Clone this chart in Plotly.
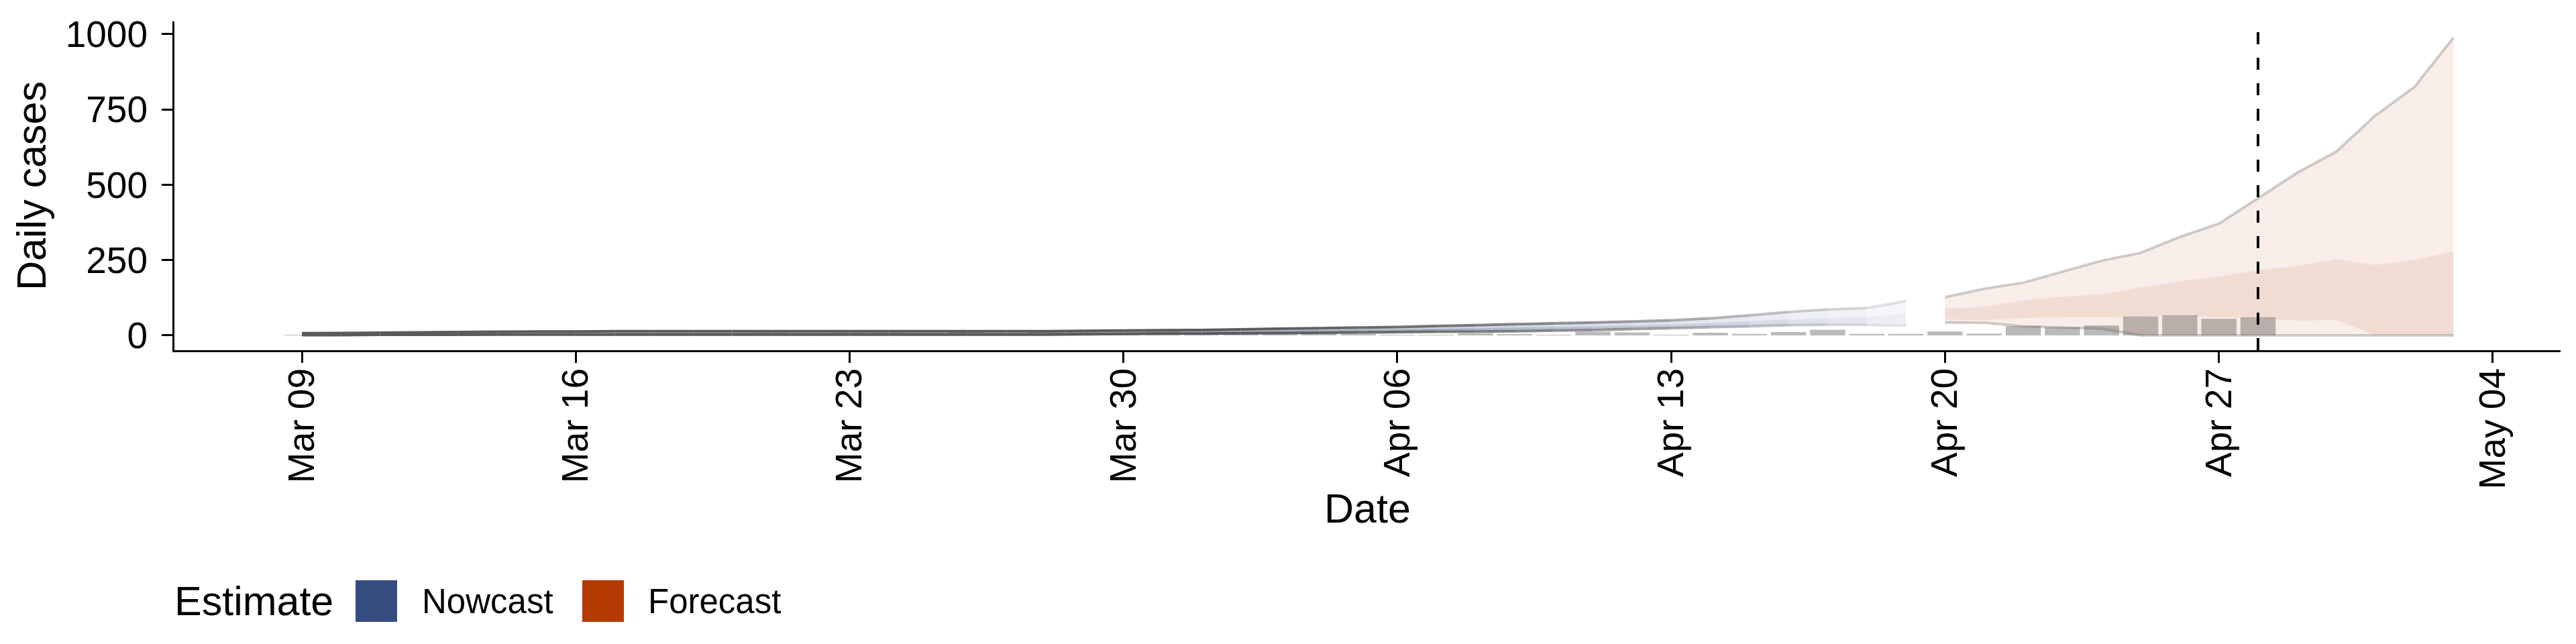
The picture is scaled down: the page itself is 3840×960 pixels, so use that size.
import pandas as pd
import plotly.graph_objects as go

# ---------------- data ----------------
report_dates = pd.date_range("2020-03-09", "2020-04-28", freq="D")
reported_cases = [1, 0, 0, 1, 1, 12, 2, 3, 0, 3, 3, 0, 9, 7, 9, 9, 5, 12, 3, 12,
                  10, 8, 12, 6, 8, 4, 9, 5,
                  1, 2, 7, 3, 2, 12, 10, 1, 9, 5, 11, 19, 5, 5,
                  13, 6, 31, 27, 33, 63, 67, 55, 60]

nowcast_dates = pd.date_range("2020-03-09", "2020-04-19", freq="D")
nowcast_upper90 = [7, 8, 9, 10, 11, 12, 13, 13, 14, 14, 14, 14, 14, 14, 14, 14, 14, 14, 14, 14,
                   15, 16, 17, 18, 20, 22, 24, 26, 28, 31, 34, 37, 40, 43, 46, 50, 57, 67, 78, 86, 91, 114]
nowcast_upper50 = [4, 5, 6, 6, 7, 8, 8, 9, 9, 9, 9, 9, 9, 9, 9, 9, 9, 9, 9, 9,
                   10, 11, 12, 13, 14, 16, 17, 19, 20, 22, 24, 26, 28, 30, 33, 36, 41, 47, 53, 58, 62, 73]
nowcast_lower50 = [3, 3, 4, 4, 5, 5, 5, 6, 6, 6, 6, 6, 6, 6, 6, 6, 6, 6, 6, 6,
                   7, 7, 8, 9, 10, 11, 12, 13, 14, 15, 17, 18, 20, 21, 24, 26, 30, 33, 37, 39, 40, 40]
nowcast_lower90 = [1, 1, 2, 2, 2, 3, 3, 3, 3, 3, 3, 3, 3, 3, 3, 3, 3, 3, 3, 3,
                   4, 5, 6, 6, 7, 8, 9, 10, 11, 12, 13, 14, 16, 18, 21, 24, 27, 30, 34, 35, 35, 33]
nowcast_confidence = [1.0] * 25 + [0.97, 0.94, 0.90, 0.86, 0.82, 0.77, 0.72, 0.67, 0.62,
                                   0.56, 0.50, 0.44, 0.38, 0.32, 0.26, 0.20, 0.14]

forecast_dates = pd.date_range("2020-04-20", "2020-05-03", freq="D")
forecast_upper90 = [127, 155, 175, 212, 248, 274, 327, 371, 455, 540, 610, 730, 825, 989]
forecast_upper50 = [89, 95, 117, 128, 137, 160, 180, 195, 216, 230, 254, 234, 252, 277]
forecast_lower50 = [53, 51, 58, 60, 60, 63, 65, 60, 58, 49, 51, 0, 0, 0]
forecast_lower90 = [43, 42, 30, 27, 22, 0, 0, 0, 0, 0, 0, 0, 0, 0]
forecast_confidence = 0.33

estimate_labels = ["Nowcast", "Forecast"]
estimate_rgb = [(53, 76, 129), (179, 58, 0)]
cutoff_date = pd.Timestamp("2020-04-28")
y_ticks = [0, 250, 500, 750, 1000]

# ---------------- styling helpers ----------------
FONT = "Liberation Sans, Arial, Helvetica, sans-serif"
W, H = 3840, 960
L, R, T, B = 252, 31, 24, 446
PW, PH = W - L - R, H - T - B
PX_PER_DAY = 58.32
MAR09_PX = 442
LEG_Y = 888


def rgba(rgb, a):
    return f"rgba({rgb[0]},{rgb[1]},{rgb[2]},{a:.3f})"


def line_col(a):
    return f"rgba(90,90,90,{a:.3f})"


fig = go.Figure()

# reported cases (bars)
fig.add_trace(go.Bar(x=report_dates, y=reported_cases, width=0.9 * 86400000,
                     marker=dict(color="#bababa", line=dict(width=0)),
                     showlegend=False, hoverinfo="x+y"))

# nowcast ribbons, drawn segment by segment with confidence-based alpha
nd = list(nowcast_dates)
for lo, hi in [(nowcast_lower90, nowcast_upper90), (nowcast_lower50, nowcast_upper50)]:
    for i in range(len(nd) - 1):
        a = 0.3 * (nowcast_confidence[i] + nowcast_confidence[i + 1]) / 2
        fig.add_trace(go.Scatter(
            x=[nd[i], nd[i + 1], nd[i + 1], nd[i], nd[i]],
            y=[lo[i], lo[i + 1], hi[i + 1], hi[i], lo[i]],
            mode="lines", fill="toself", fillcolor=rgba(estimate_rgb[0], a),
            line=dict(width=0), showlegend=False, hoverinfo="skip"))
for bound in [nowcast_upper90, nowcast_lower90]:
    for i in range(len(nd) - 1):
        a = (nowcast_confidence[i] + nowcast_confidence[i + 1]) / 2
        fig.add_trace(go.Scatter(
            x=[nd[i], nd[i + 1]], y=[bound[i], bound[i + 1]], mode="lines",
            line=dict(color=line_col(a), width=4), showlegend=False, hoverinfo="skip"))

# forecast ribbons
fd = list(forecast_dates)
for lo, hi in [(forecast_lower90, forecast_upper90), (forecast_lower50, forecast_upper50)]:
    fig.add_trace(go.Scatter(
        x=fd + fd[::-1], y=list(lo) + list(hi)[::-1], mode="lines", fill="toself",
        fillcolor=rgba(estimate_rgb[1], 0.28 * forecast_confidence),
        line=dict(width=0), showlegend=False, hoverinfo="skip"))
for bound in [forecast_upper90, forecast_lower90]:
    fig.add_trace(go.Scatter(x=fd, y=bound, mode="lines",
                             line=dict(color=line_col(0.85 * forecast_confidence), width=4),
                             showlegend=False, hoverinfo="skip"))

# cutoff dashed line
fig.add_shape(type="line", x0=cutoff_date, x1=cutoff_date, yref="paper", y0=0, y1=1,
              line=dict(color="black", width=4, dash="18px,20px"))


# manual legend (ggplot-style large swatches)
def px_x(p):
    return (p - L) / PW


def px_y(p):
    return (H - B - p) / PH


fig.add_annotation(text="Estimate", x=px_x(250), y=px_y(LEG_Y), xref="paper", yref="paper",
                   xanchor="left", yanchor="middle", showarrow=False,
                   font=dict(family=FONT, size=61, color="black"))
swatch_x = [522, 860]
label_x = [619, 956]
for lab, rgb, sx, lx in zip(estimate_labels, estimate_rgb, swatch_x, label_x):
    fig.add_shape(type="rect", xref="paper", yref="paper",
                  x0=px_x(sx), x1=px_x(sx + 62), y0=px_y(LEG_Y + 31), y1=px_y(LEG_Y - 31),
                  fillcolor=rgba(rgb, 1), line=dict(width=0))
    fig.add_annotation(text=lab, x=px_x(lx), y=px_y(LEG_Y), xref="paper", yref="paper",
                       xanchor="left", yanchor="middle", showarrow=False,
                       font=dict(family=FONT, size=51, color="black"))

x_start = pd.Timestamp("2020-03-09") - pd.Timedelta(days=(MAR09_PX - L) / PX_PER_DAY)
x_end = x_start + pd.Timedelta(days=PW / PX_PER_DAY)

fig.update_layout(
    width=W, height=H,
    margin=dict(l=L, r=R, t=T, b=B, pad=0),
    paper_bgcolor="white", plot_bgcolor="white",
    font=dict(family=FONT, size=55, color="black"),
    showlegend=False,
    barmode="overlay",
    xaxis=dict(
        type="date", range=[x_start, x_end],
        tick0="2020-03-09", dtick=7 * 86400000, tickformat="%b %d", tickangle=-90,
        showgrid=False, zeroline=False, showline=True, linecolor="black", linewidth=3,
        ticks="outside", ticklen=16, tickwidth=3, tickcolor="black",
        tickfont=dict(family=FONT, size=55, color="black"), ticklabelstandoff=-14,
        title=dict(text="Date", font=dict(family=FONT, size=61, color="black"), standoff=8),
    ),
    yaxis=dict(
        range=[-49, 1042], tickvals=y_ticks,
        showgrid=False, zeroline=False, showline=True, linecolor="black", linewidth=3,
        ticks="outside", ticklen=16, tickwidth=3, tickcolor="black",
        tickfont=dict(family=FONT, size=55, color="black"), ticklabelstandoff=10,
        title=dict(text="Daily cases", font=dict(family=FONT, size=61, color="black"), standoff=10),
    ),
)

fig.write_html("out.html")
